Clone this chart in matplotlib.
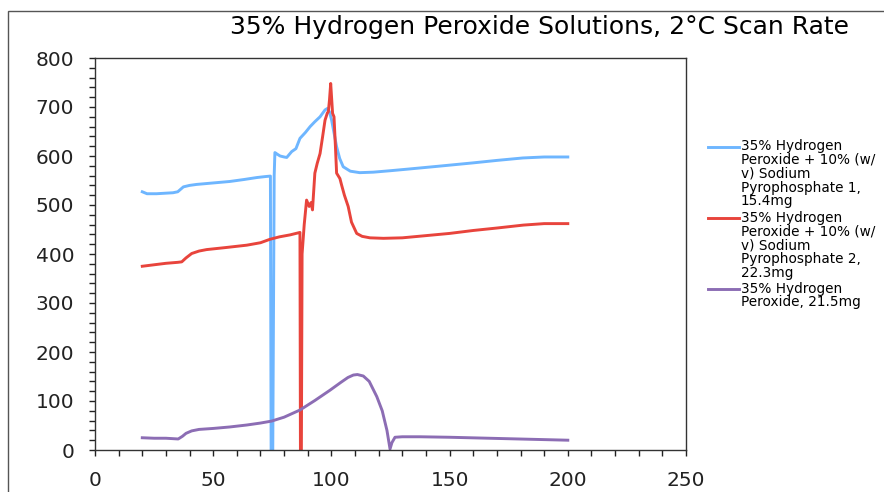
import matplotlib.pyplot as plt
from matplotlib.lines import Line2D
from matplotlib.patches import Rectangle
from matplotlib.ticker import MultipleLocator

# series 1: 35% H2O2 + 10% Na pyrophosphate 1, 15.4mg
x1 = [20, 22, 26, 33, 35, 37.4, 40, 43, 50, 57, 63, 68.4, 72, 74.2, 74.5, 75.2, 75.8, 76.1,
      77, 78.3, 80, 81.1, 83.2, 85, 86.7, 89, 91, 93, 95.2, 97.3, 98.3, 99.2, 100.1, 101,
      102.2, 103.5, 105, 108, 112, 117.7, 125, 131.8, 145, 160, 170, 181, 190, 200]
y1 = [527, 523, 523, 525, 527, 537, 540, 542, 545, 548, 552, 556, 558, 559, 0, 0, 560, 607,
      604, 600, 598, 597, 609, 615, 636, 648, 660, 670, 680, 694, 697, 690, 673, 650,
      619, 595, 578, 569, 566, 567, 570, 573, 579, 586, 591, 596, 598, 598]

# series 2: 35% H2O2 + 10% Na pyrophosphate 2, 22.3mg
x2 = [20, 25, 30, 35, 36.7, 38.5, 40.9, 44, 47.2, 55, 64.2, 70, 74, 78, 82.5, 86.7, 86.9,
      87.3, 87.6, 88.5, 89.5, 90.6, 91.4, 92, 93, 94, 95.2, 96.3, 97.3, 98.3, 98.7, 99.2,
      99.7, 100.2, 100.5, 101.1, 101.7, 102.2, 103.6, 104.3, 105.5, 107.1, 108.5, 110.7,
      113, 116.3, 122, 130, 138.9, 150, 160, 170, 181.2, 190, 200]
y2 = [375, 378, 381, 383, 384, 392, 401, 406, 409, 413, 418, 423, 430, 435, 439, 444, 0,
      0, 400, 460, 510, 497, 505, 490, 565, 585, 605, 640, 673, 688, 690, 715,
      748, 710, 687, 680, 620, 565, 554, 541, 520, 497, 465, 442, 436, 433, 432, 433, 437,
      442, 448, 453, 459, 462, 462]

# series 3: 35% H2O2, 21.5mg
x3 = [20, 25, 30, 35.2, 37, 38.5, 40.9, 44, 50, 57, 64.2, 70, 74.7, 80, 86.7, 93, 99.4,
      104, 107, 109.3, 111, 113.5, 116, 119.2, 121.5, 123.5, 124.8, 125.6, 126.9, 130,
      137.5, 150, 175, 200]
y3 = [25, 24, 24, 22.5, 28, 34, 39, 42, 44, 47, 51, 55, 59, 67, 81.6, 101, 122,
      138, 148, 153, 154, 151, 140, 109, 80, 40, 2, 15, 26, 27,
      27, 26, 23, 20]

series_x = [x1, x2, x3]
series_y = [y1, y2, y3]
labels = ["35% Hydrogen\nPeroxide + 10% (w/\nv) Sodium\nPyrophosphate 1,\n15.4mg",
          "35% Hydrogen\nPeroxide + 10% (w/\nv) Sodium\nPyrophosphate 2,\n22.3mg",
          "35% Hydrogen\nPeroxide, 21.5mg"]
colors = ["#6EB6FF", "#E8443C", "#8C6DB4"]

W, H = 884, 492
fig = plt.figure(figsize=(8.84, 4.92), dpi=100, facecolor="w")

# outer chart frame (runs off bottom and right like the source)
fig.patches.append(Rectangle((8 / W, -0.1), 1.2, 1 - 11 / H + 0.1, transform=fig.transFigure,
                             fill=False, edgecolor="#555555", lw=1.0))

ax = fig.add_axes([95 / W, 42 / H, 591 / W, 392 / H])
for xs, ys, c in zip(series_x, series_y, colors):
    ax.plot(xs, ys, color=c, lw=2.1, solid_joinstyle="round")

ax.set_xlim(0, 250)
ax.set_ylim(0, 800)
ax.xaxis.set_major_locator(MultipleLocator(50))
ax.xaxis.set_minor_locator(MultipleLocator(10))
ax.yaxis.set_major_locator(MultipleLocator(100))
ax.yaxis.set_minor_locator(MultipleLocator(20))
ax.tick_params(which="both", direction="out", colors="#222222", width=1.0)
ax.tick_params(which="major", length=4, labelsize=14.5, pad=11)
ax.tick_params(which="minor", length=4)
for s in ax.spines.values():
    s.set_color("#333333")
    s.set_linewidth(1.0)

fig.text(540 / W, 1 - 27 / H, "35% Hydrogen Peroxide Solutions, 2°C Scan Rate",
         ha="center", va="center", fontsize=18)

# legend, handles aligned with the first text line
tops = [146.7, 218.3, 289]
for lab, c, yt in zip(labels, colors, tops):
    fig.lines.append(Line2D([708 / W, 739 / W], [1 - yt / H, 1 - yt / H],
                            transform=fig.transFigure, color=c, lw=2.1))
    fig.text(741 / W, 1 - (yt - 7.5) / H, lab, ha="left", va="top",
             fontsize=9.8, linespacing=0.98)

fig.savefig("out.png", dpi=100)
